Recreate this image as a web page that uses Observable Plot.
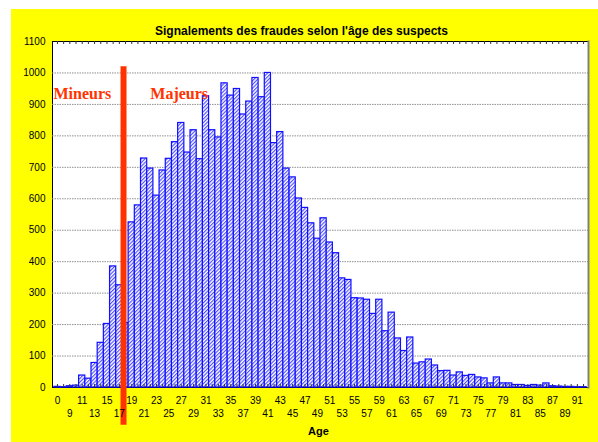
<!DOCTYPE html>
<html>
<head>
<meta charset="utf-8">
<script src="https://cdn.jsdelivr.net/npm/d3@7"></script>
<script src="https://cdn.jsdelivr.net/npm/@observablehq/plot@0.6"></script>
<style>
  html, body { margin: 0; padding: 0; background: white; overflow: hidden; }
  #chart svg { display: block; margin: 9px 0 0 11px; }
</style>
</head>
<body>
<div id="chart"></div>
<script>
// ---- data ----
const ages = ["0", "5", "9", "10", "11", "12", "13", "14", "15", "16", "17", "18", "19", "20",
  "21", "22", "23", "24", "25", "26", "27", "28", "29", "30", "31", "32", "33", "34", "35",
  "36", "37", "38", "39", "40", "41", "42", "43", "44", "45", "46", "47", "48", "49", "50",
  "51", "52", "53", "54", "55", "56", "57", "58", "59", "60", "61", "62", "63", "64", "65",
  "66", "67", "68", "69", "70", "71", "72", "73", "74", "75", "76", "77", "78", "79", "80",
  "81", "82", "83", "84", "85", "86", "87", "88", "89", "90", "91", "92"];
const counts = [2, 1, 4, 6, 38, 28, 78, 142, 202, 385, 325, 205, 525, 579,
  728, 696, 610, 690, 727, 780, 841, 747, 818, 726, 926, 818, 795, 967, 928,
  949, 868, 909, 984, 923, 1000, 777, 812, 696, 668, 601, 571, 522, 473, 538,
  461, 427, 347, 342, 284, 283, 279, 234, 279, 179, 238, 156, 116, 159, 76,
  80, 89, 70, 52, 53, 38, 48, 37, 40, 32, 29, 13, 32, 13, 13,
  8, 8, 5, 8, 6, 13, 4, 3, 2, 2, 1, 1];
const yTicks = [0, 100, 200, 300, 400, 500, 600, 700, 800, 900, 1000, 1100];
const xLabelsRow1 = ages.filter((d, i) => i % 4 === 0);
const xLabelsRow2 = ages.filter((d, i) => i % 4 === 2);
const title = "Signalements des fraudes selon l'âge des suspects";
const xTitle = "Age";
const dividerAge = "18";          // separation mineurs / majeurs
const dividerRange = [-120, 1020]; // vertical extent of the red divider
const labelMinors = {label: "Mineurs", age: "0", value: 935};
const labelAdults = {label: "Majeurs", age: "22", value: 935};

const data = ages.map((a, i) => ({age: a, count: counts[i]}));

const W = 587, H = 433, mT = 32, mB = 55, mL = 41, mR = 10;
const yMax = 1100;
const unitsPerPx = yMax / (H - mT - mB);
const tickLen = 3 * unitsPerPx;
const red = "#ff3300";
const annoStyle = {x: "age", y: "value", text: "label", textAnchor: "start", fill: red,
  fontFamily: "'Liberation Serif', 'Times New Roman', serif", fontWeight: "bold", fontSize: 16};

const chart = Plot.plot({
  width: W,
  height: H,
  marginTop: mT,
  marginBottom: mB,
  marginLeft: mL,
  marginRight: mR,
  style: {background: "#ffff00", fontFamily: "'Liberation Sans', Arial, sans-serif", fontSize: "10px", color: "black", overflow: "visible"},
  x: {type: "band", domain: ages, paddingInner: 0, paddingOuter: 0.3, round: false, axis: null},
  y: {domain: [0, yMax], axis: null},
  marks: [
    Plot.frame({fill: "white", stroke: "black", strokeWidth: 1}),
    Plot.gridY(yTicks.slice(1, -1), {stroke: "#909090", strokeOpacity: 1, strokeDasharray: "1.5,1"}),
    Plot.barY(data, {x: "age", y: "count", fill: "url(#hatch)", stroke: "#1010ff", strokeWidth: 1.2}),
    // bottom & top inward category ticks
    Plot.ruleX(ages, {x: d => d, y1: 0, y2: tickLen, stroke: "#333", strokeWidth: 1}),
    Plot.ruleX(ages, {x: d => d, y1: yMax, y2: yMax - tickLen, stroke: "#333", strokeWidth: 1}),
    // right inward value ticks
    Plot.tickY(yTicks, {y: d => d, x: ages[ages.length - 1], insetLeft: 3, dx: 3.7, stroke: "#333", strokeWidth: 1.5}),
    // right border in grey
    Plot.frame({anchor: "right", stroke: "#808080", strokeWidth: 2}),
    Plot.ruleX([dividerAge], {x: d => d, y1: dividerRange[0], y2: dividerRange[1], stroke: red, strokeWidth: 6, dx: -2}),
    Plot.axisY(yTicks, {tickSize: 0, tickPadding: 7, fontSize: 10, label: null, tickFormat: d3.format("d")}),
    Plot.axisX(xLabelsRow1, {tickSize: 0, tickPadding: 9, fontSize: 10, label: null}),
    Plot.axisX(xLabelsRow2, {tickSize: 0, tickPadding: 22.5, fontSize: 10, label: null}),
    Plot.text([labelMinors], {...annoStyle, dx: -4}),
    Plot.text([labelAdults], {...annoStyle, dx: 0}),
    Plot.text([title], {frameAnchor: "top", dy: -15, dx: -19, fontWeight: "bold", fontSize: 12, fill: "black"}),
    Plot.text([xTitle], {frameAnchor: "bottom", dy: 47, dx: -2, fontWeight: "bold", fontSize: 11, fill: "black"})
  ]
});

chart.insertAdjacentHTML("afterbegin",
  `<defs><pattern id="hatch" width="2.6" height="2.6" patternUnits="userSpaceOnUse" patternTransform="rotate(45)">
     <rect width="2.6" height="2.6" fill="white"/>
     <line x1="0.6" y1="0" x2="0.6" y2="2.6" stroke="#3535ff" stroke-width="1"/>
   </pattern></defs>`);

document.getElementById("chart").appendChild(chart);
</script>
</body>
</html>
